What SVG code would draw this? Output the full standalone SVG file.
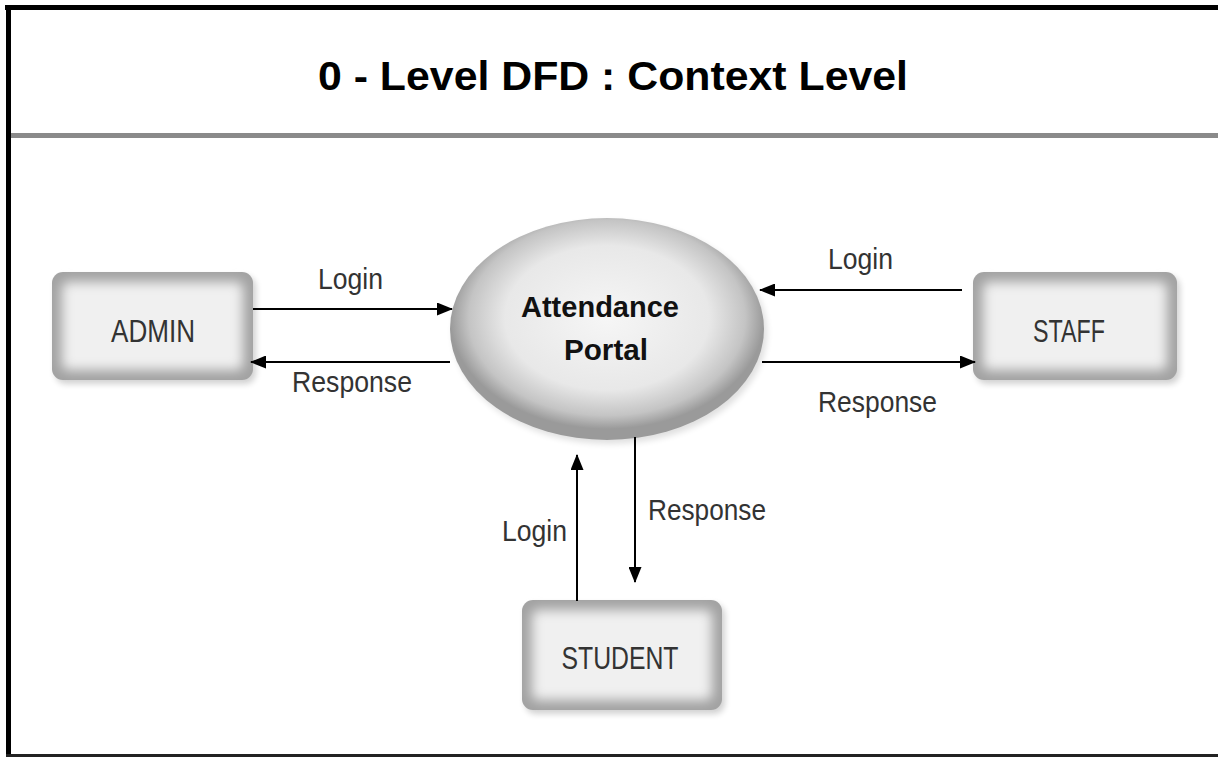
<svg xmlns="http://www.w3.org/2000/svg" width="1218" height="758" viewBox="0 0 1218 758">
<style>
.lbl{font-family:"Liberation Sans",Arial,sans-serif;font-size:29px;fill:#333;}
.box-t{font-family:"Liberation Sans",Arial,sans-serif;font-size:32px;fill:#333;text-anchor:middle;}
.title{font-family:"Liberation Sans",Arial,sans-serif;font-size:41px;font-weight:bold;fill:#000;text-anchor:middle;}
.proc-t{font-family:"Liberation Sans",Arial,sans-serif;font-size:30px;font-weight:bold;fill:#111;text-anchor:middle;}
.flow{stroke:#000;stroke-width:2;fill:none;}
.outer{fill:#a2a2a2;}
.inner{fill:#f0f0f0;filter:url(#blur);}
</style>
<defs>
<filter id="blur" x="-20%" y="-20%" width="140%" height="140%"><feGaussianBlur stdDeviation="6"/></filter>
<filter id="shadow" x="-20%" y="-20%" width="140%" height="140%"><feGaussianBlur stdDeviation="3"/></filter>
<radialGradient id="eg" cx="0.5" cy="0.45" r="0.5">
<stop offset="0" stop-color="#f6f6f6"/>
<stop offset="0.65" stop-color="#e8e8e8"/>
<stop offset="0.88" stop-color="#c4c4c4"/>
<stop offset="1" stop-color="#9a9a9a"/>
</radialGradient>
<marker id="ah" viewBox="0 0 16 13" refX="15" refY="6.5" markerWidth="16" markerHeight="13" markerUnits="userSpaceOnUse" orient="auto">
<path d="M0,0 L16,6.5 L0,13 Z" fill="#000"/>
</marker>
</defs>
<rect x="0" y="0" width="1218" height="758" fill="#fff"/>
<g id="frame">
<line x1="5" y1="7.5" x2="1218" y2="7.5" stroke="#000" stroke-width="5"/>
<line x1="8.5" y1="5" x2="8.5" y2="757" stroke="#000" stroke-width="5"/>
<line x1="6" y1="755.5" x2="1218" y2="755.5" stroke="#222" stroke-width="3"/>
<line x1="11" y1="135.5" x2="1218" y2="135.5" stroke="#8a8a8a" stroke-width="5"/>
<text class="title" x="613" y="90" textLength="590" lengthAdjust="spacingAndGlyphs">0 - Level DFD : Context Level</text>
</g>
<g id="admin">
<rect x="55" y="276" width="201" height="108" rx="11" fill="#000" opacity="0.18" filter="url(#shadow)"/>
<rect class="outer" x="52" y="272" width="201" height="108" rx="11"/>
<rect class="inner" x="62" y="282" width="181" height="88" rx="6"/>
<text class="box-t" x="153" y="342" textLength="84" lengthAdjust="spacingAndGlyphs">ADMIN</text>
</g>
<g id="staff">
<rect x="976" y="276" width="204" height="108" rx="11" fill="#000" opacity="0.18" filter="url(#shadow)"/>
<rect class="outer" x="973" y="272" width="204" height="108" rx="11"/>
<rect class="inner" x="983" y="282" width="184" height="88" rx="6"/>
<text class="box-t" x="1069" y="342" textLength="72" lengthAdjust="spacingAndGlyphs">STAFF</text>
</g>
<g id="student">
<rect x="525" y="604" width="200" height="110" rx="11" fill="#000" opacity="0.18" filter="url(#shadow)"/>
<rect class="outer" x="522" y="600" width="200" height="110" rx="11"/>
<rect class="inner" x="532" y="610" width="180" height="90" rx="6"/>
<text class="box-t" x="620" y="669" textLength="117" lengthAdjust="spacingAndGlyphs">STUDENT</text>
</g>
<g id="portal">
<ellipse cx="610" cy="333" rx="157" ry="111" fill="#000" opacity="0.12" filter="url(#shadow)"/>
<ellipse cx="607" cy="329" rx="157" ry="111" fill="url(#eg)"/>
<text class="proc-t" x="600" y="317" textLength="158" lengthAdjust="spacingAndGlyphs">Attendance</text>
<text class="proc-t" x="606" y="360" textLength="84" lengthAdjust="spacingAndGlyphs">Portal</text>
</g>
<g id="connectors">
<line class="flow" x1="253" y1="309" x2="452" y2="309" marker-end="url(#ah)"/>
<line class="flow" x1="450" y1="362" x2="251" y2="362" marker-end="url(#ah)"/>
<line class="flow" x1="962" y1="290" x2="760" y2="290" marker-end="url(#ah)"/>
<line class="flow" x1="762" y1="362" x2="975" y2="362" marker-end="url(#ah)"/>
<line class="flow" x1="577" y1="601" x2="577" y2="455" marker-end="url(#ah)"/>
<line class="flow" x1="635" y1="437" x2="635" y2="582" marker-end="url(#ah)"/>
<text class="lbl" x="318" y="289" textLength="65" lengthAdjust="spacingAndGlyphs">Login</text>
<text class="lbl" x="292" y="392" textLength="120" lengthAdjust="spacingAndGlyphs">Response</text>
<text class="lbl" x="828" y="269" textLength="65" lengthAdjust="spacingAndGlyphs">Login</text>
<text class="lbl" x="818" y="412" textLength="119" lengthAdjust="spacingAndGlyphs">Response</text>
<text class="lbl" x="502" y="541" textLength="65" lengthAdjust="spacingAndGlyphs">Login</text>
<text class="lbl" x="648" y="520" textLength="118" lengthAdjust="spacingAndGlyphs">Response</text>
</g>
</svg>
